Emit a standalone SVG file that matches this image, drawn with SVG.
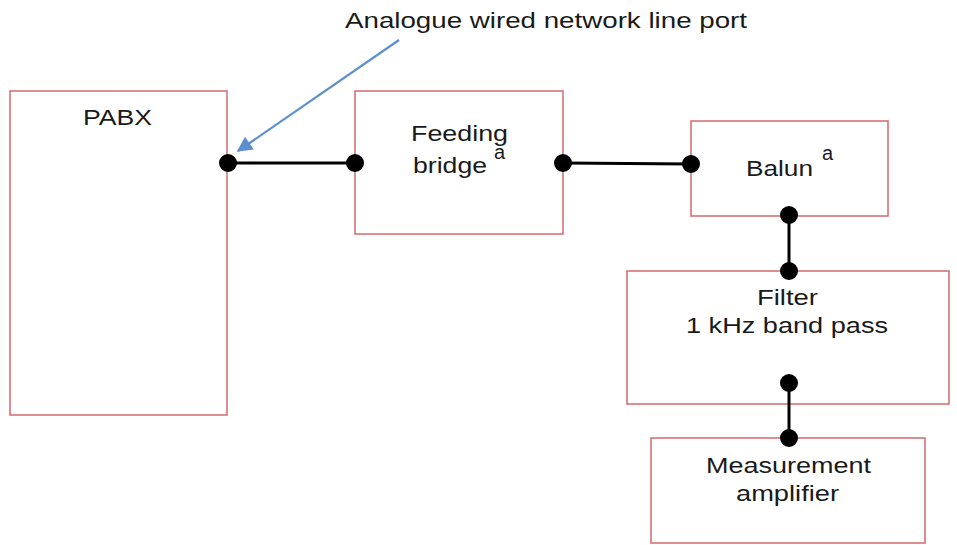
<svg xmlns="http://www.w3.org/2000/svg" width="957" height="545" viewBox="0 0 957 545">
<defs>
<style>
.box{fill:#fff;stroke:#d46a6a;stroke-width:1.5}
.t{font-family:"Liberation Sans",Arial,sans-serif;font-size:22px;fill:#1a1a1a}
.sup{font-family:"Liberation Sans",Arial,sans-serif;font-size:20px;fill:#1a1a1a}
.wire{stroke:#000;stroke-width:3;fill:none}
.dot{fill:#000}
</style>
<marker id="ah" viewBox="0 0 10 10" refX="9" refY="5" markerWidth="8" markerHeight="7" orient="auto" markerUnits="strokeWidth">
<path d="M0,0 L10,5 L0,10 z" fill="#5b8fd0"/>
</marker>
</defs>
<rect width="957" height="545" fill="#fff"/>
<g id="pabx">
<rect class="box" x="10" y="91" width="217" height="324"/>
<text class="t" x="83" y="125" textLength="69" lengthAdjust="spacingAndGlyphs">PABX</text>
</g>
<g id="feeding-bridge">
<rect class="box" x="355" y="91" width="208" height="143"/>
<text class="t" x="411" y="141" textLength="97" lengthAdjust="spacingAndGlyphs">Feeding</text>
<text class="t" x="413" y="173" textLength="74" lengthAdjust="spacingAndGlyphs">bridge</text>
<text class="sup" x="494" y="159">a</text>
</g>
<g id="balun">
<rect class="box" x="691" y="121" width="197" height="95"/>
<text class="t" x="746" y="176" textLength="67" lengthAdjust="spacingAndGlyphs">Balun</text>
<text class="sup" x="822" y="160">a</text>
</g>
<g id="filter">
<rect class="box" x="627" y="271" width="322" height="133"/>
<text class="t" x="757" y="305" textLength="61" lengthAdjust="spacingAndGlyphs">Filter</text>
<text class="t" x="686" y="333" textLength="202" lengthAdjust="spacingAndGlyphs">1 kHz band pass</text>
</g>
<g id="measurement-amplifier">
<rect class="box" x="651" y="438" width="274" height="105"/>
<text class="t" x="706" y="473" textLength="165" lengthAdjust="spacingAndGlyphs">Measurement</text>
<text class="t" x="736" y="501" textLength="103" lengthAdjust="spacingAndGlyphs">amplifier</text>
</g>
<g id="annotation">
<text class="t" x="345" y="28" textLength="402" lengthAdjust="spacingAndGlyphs">Analogue wired network line port</text>
<line x1="399" y1="40" x2="238" y2="151" stroke="#5b8fd0" stroke-width="2.2" marker-end="url(#ah)"/>
</g>
<g id="connectors">
<line class="wire" x1="228" y1="163" x2="355" y2="163"/>
<line class="wire" x1="563" y1="163" x2="691" y2="164"/>
<line class="wire" x1="789" y1="215" x2="789" y2="271"/>
<line class="wire" x1="789" y1="383" x2="789" y2="438"/>
<circle class="dot" cx="228" cy="163" r="9"/>
<circle class="dot" cx="355" cy="163" r="9"/>
<circle class="dot" cx="563" cy="163" r="9"/>
<circle class="dot" cx="691" cy="164" r="9"/>
<circle class="dot" cx="789" cy="215" r="9"/>
<circle class="dot" cx="789" cy="271" r="9"/>
<circle class="dot" cx="789" cy="383" r="9"/>
<circle class="dot" cx="789" cy="438" r="9"/>
</g>
</svg>
